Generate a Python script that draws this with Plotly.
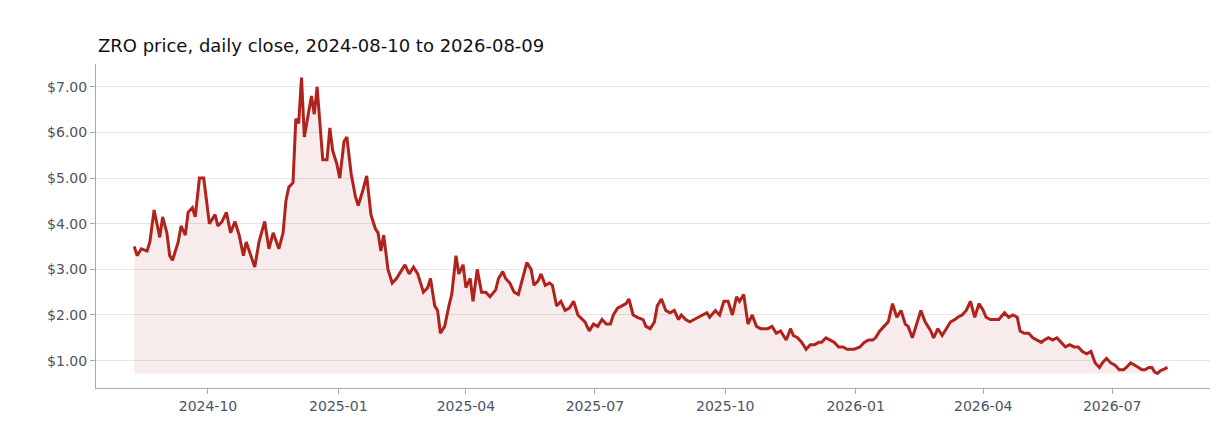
import pandas as pd
import plotly.graph_objects as go

# Days since 2024-08-10 (sampled from the chart) and closing price in USD
day_offsets = [
    0, 2, 5, 9, 11, 14, 18, 20, 23, 25, 27, 31, 33, 36, 38, 41, 43, 46, 49, 53,
    57, 59, 62, 65, 68, 71, 74, 77, 79, 82, 85, 88, 92, 95, 98, 102, 105, 107, 109, 112,
    114, 116, 118, 120, 125, 127, 129, 131, 133, 136, 138, 140, 143, 145, 148, 150,
    153, 156, 158, 161, 164, 167, 170, 172, 174, 176, 179, 182, 185, 188, 191, 194, 197, 200,
    204, 207, 209, 212, 214, 216, 219, 222, 224, 227, 229, 232, 234, 237, 239, 242, 245, 248,
    251, 255, 257, 260, 262, 265, 268, 271, 275, 277, 280, 282, 285, 287, 290, 293, 295, 298,
    301, 304, 307, 310, 313, 316, 318, 321, 324, 327, 330, 333, 336, 338, 341, 344, 347, 349,
    352, 355, 359, 361, 364, 367, 369, 372, 375, 378, 381, 384, 386, 389, 392, 395, 398, 401,
    404, 406, 410, 413, 416, 419, 422, 425, 427, 430, 433, 436, 439, 442, 445, 447, 450, 453,
    456, 460, 463, 465, 468, 471, 474, 477, 480, 483, 485, 488, 491, 494, 497, 500, 503, 505,
    508, 512, 515, 518, 521, 523, 526, 529, 532, 535, 538, 541, 544, 546, 549, 552, 555, 558,
    562, 564, 567, 570, 573, 576, 579, 581, 584, 587, 590, 593, 596, 599, 601, 604, 607, 610,
    614, 617, 620, 623, 625, 628, 631, 634, 637, 640, 642, 645, 648, 651, 654, 657, 660, 663,
    666, 669, 672, 675, 678, 681, 683, 686, 689, 692, 695, 698, 700, 703, 706, 709,
    711, 713, 716, 718, 720, 722, 724, 727, 729,
]
close_usd = [
    3.5, 3.3, 3.45, 3.4, 3.6, 4.3, 3.7, 4.15, 3.8, 3.3, 3.2, 3.6, 3.95, 3.75, 4.25, 4.35, 4.15, 5.0, 5.0, 4.0,
    4.2, 3.95, 4.05, 4.25, 3.8, 4.05, 3.75, 3.3, 3.6, 3.3, 3.05, 3.6, 4.05, 3.45, 3.8, 3.45, 3.8, 4.5, 4.8, 4.9,
    6.3, 6.2, 7.2, 5.9, 6.8, 6.4, 7.0, 6.2, 5.4, 5.4, 6.1, 5.6, 5.3, 5.0, 5.8, 5.9,
    5.1, 4.6, 4.4, 4.7, 5.05, 4.2, 3.9, 3.8, 3.4, 3.75, 3.0, 2.7, 2.8, 2.95, 3.1, 2.9, 3.05, 2.9,
    2.5, 2.6, 2.8, 2.2, 2.1, 1.6, 1.75, 2.2, 2.45, 3.3, 2.9, 3.1, 2.6, 2.8, 2.3, 3.0, 2.5, 2.5,
    2.4, 2.55, 2.8, 2.95, 2.8, 2.7, 2.5, 2.45, 2.95, 3.15, 3.0, 2.65, 2.75, 2.9, 2.65, 2.7, 2.65, 2.2,
    2.3, 2.1, 2.15, 2.3, 2.0, 1.9, 1.85, 1.65, 1.8, 1.75, 1.9, 1.8, 1.8, 2.0, 2.15, 2.2, 2.25, 2.35,
    2.0, 1.95, 1.9, 1.75, 1.7, 1.85, 2.2, 2.35, 2.1, 2.05, 2.1, 1.9, 2.0, 1.9, 1.85, 1.9, 1.95, 2.0,
    2.05, 1.95, 2.1, 2.0, 2.3, 2.3, 2.0, 2.4, 2.3, 2.45, 1.8, 2.0, 1.75, 1.7, 1.7, 1.7, 1.75, 1.6,
    1.65, 1.45, 1.7, 1.55, 1.5, 1.4, 1.25, 1.35, 1.35, 1.4, 1.4, 1.5, 1.45, 1.4, 1.3, 1.3, 1.25, 1.25,
    1.25, 1.3, 1.4, 1.45, 1.45, 1.5, 1.65, 1.75, 1.85, 2.25, 1.95, 2.1, 1.8, 1.75, 1.5, 1.8, 2.1, 1.85,
    1.65, 1.5, 1.7, 1.55, 1.7, 1.85, 1.9, 1.95, 2.0, 2.1, 2.3, 1.95, 2.25, 2.1, 1.95, 1.9, 1.9, 1.9,
    2.05, 1.95, 2.0, 1.95, 1.65, 1.6, 1.6, 1.5, 1.45, 1.4, 1.45, 1.5, 1.45, 1.5, 1.4, 1.3, 1.35, 1.3,
    1.3, 1.2, 1.15, 1.2, 0.95, 0.85, 0.95, 1.05, 0.95, 0.9, 0.8, 0.8, 0.85, 0.95, 0.9, 0.85,
    0.8, 0.8, 0.85, 0.85, 0.75, 0.72, 0.78, 0.82, 0.85, 0.87,
]
close_usd = close_usd[:len(day_offsets)]
day_offsets = day_offsets[:len(close_usd)]

start = pd.Timestamp("2024-08-10")
dates = [start + pd.Timedelta(days=d) for d in day_offsets]
floor = min(close_usd)

fig = go.Figure()
# invisible baseline at the lowest close, the area is filled up to the line from it
fig.add_trace(go.Scatter(x=dates, y=[floor] * len(dates), mode="lines",
                         line=dict(width=0), hoverinfo="skip", showlegend=False))
fig.add_trace(go.Scatter(x=dates, y=close_usd, mode="lines", fill="tonexty",
                         fillcolor="rgba(178,34,34,0.09)",
                         line=dict(color="#b0231c", width=3), showlegend=False))

fig.update_layout(
    title=dict(text="ZRO price, daily close, 2024-08-10 to 2026-08-09", x=0.073, y=0.93,
               font=dict(size=18, color="#111", family="DejaVu Sans")),
    width=1232, height=448,
    margin=dict(l=88, r=30, t=56, b=68),
    plot_bgcolor="white", paper_bgcolor="white",
    font=dict(family="DejaVu Sans", size=14, color="#4a5568"),
)
fig.update_xaxes(showgrid=False, showline=True, linecolor="#aaa", ticks="outside",
                 tickcolor="#aaa", dtick="M3", tickformat="%Y-%m",
                 range=["2024-07-14", "2026-09-08"])
fig.update_yaxes(showgrid=True, gridcolor="#e6e6e6", showline=True, linecolor="#aaa",
                 ticks="outside", tickcolor="#aaa", tickprefix="$", tickformat=".2f",
                 dtick=1, range=[0.4, 7.5], zeroline=False)

fig.write_html("out.html")
